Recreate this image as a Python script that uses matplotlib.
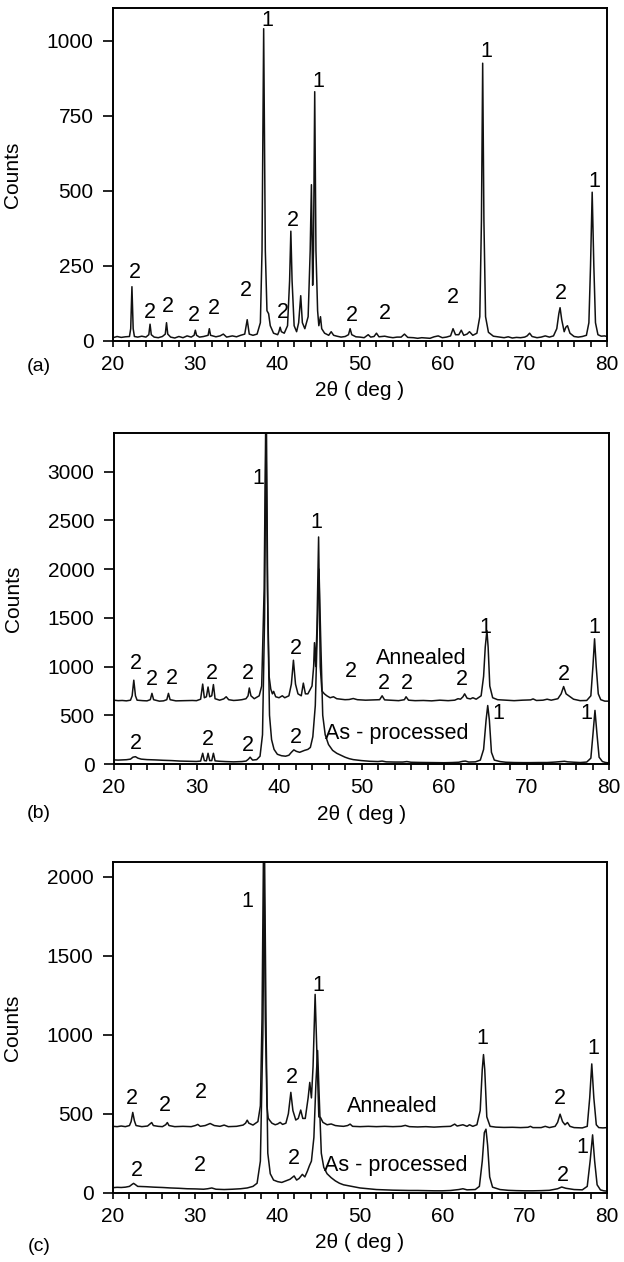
"""Three-panel XRD figure (a)-(c): Counts vs 2-theta, with phase peak labels."""
import matplotlib

matplotlib.use("Agg")
import matplotlib.pyplot as plt  # noqa: E402
from matplotlib.ticker import MultipleLocator  # noqa: E402

plt.rcParams["font.family"] = ["Liberation Sans", "DejaVu Sans"]
plt.rcParams["font.size"] = 15

# ---- panel (a): single pattern -------------------------------------------
a_x = [20.0, 20.5, 21.0, 21.5, 22.0, 22.15, 22.3, 22.45, 22.6, 23.0, 23.5, 24.0,
       24.35, 24.5, 24.65, 25.0, 25.5, 26.0, 26.35, 26.5, 26.65, 27.0, 27.5, 28.0,
       28.5, 29.0, 29.5, 29.85, 30.0, 30.15, 30.5, 31.0, 31.55, 31.7, 31.85, 32.5,
       33.0, 33.4, 33.8, 34.5, 35.0, 35.5, 36.0, 36.3, 36.55, 37.0, 37.5, 37.9,
       38.1, 38.3, 38.5, 38.7, 38.9, 39.1, 39.5, 40.0, 40.15, 40.3, 40.45, 40.8,
       41.2, 41.45, 41.6, 41.75, 42.0, 42.3, 42.55, 42.8, 43.0, 43.3, 43.7, 43.95,
       44.1, 44.25, 44.35, 44.5, 44.65, 44.85, 45.0, 45.2, 45.35, 45.7, 46.2, 46.5,
       46.8, 47.2, 47.7, 48.2, 48.6, 48.8, 49.0, 49.5, 50.0, 50.5, 51.0, 51.3,
       51.7, 52.0, 52.3, 53.0, 53.5, 54.0, 54.5, 55.0, 55.4, 55.8, 56.5, 57.0,
       57.5, 58.0, 58.5, 59.0, 59.5, 60.0, 60.5, 61.0, 61.3, 61.6, 62.0, 62.3,
       62.6, 63.0, 63.3, 63.7, 64.2, 64.55, 64.75, 64.9, 65.05, 65.25, 65.6, 66.2,
       67.0, 67.5, 68.0, 68.5, 69.0, 69.5, 70.0, 70.3, 70.6, 70.9, 71.5, 72.0,
       72.5, 73.0, 73.5, 73.9, 74.15, 74.3, 74.5, 74.8, 75.0, 75.2, 75.5, 76.0,
       76.5, 77.0, 77.5, 77.8, 78.0, 78.2, 78.4, 78.6, 78.9, 79.3, 79.7, 80.0]
a_y = [10, 14, 11, 13, 14, 40, 180, 40, 14, 12, 15, 12,
       20, 55, 20, 12, 10, 14, 22, 60, 22, 12, 9, 14,
       10, 16, 12, 18, 35, 18, 12, 14, 18, 40, 18, 13,
       16, 22, 12, 16, 13, 18, 22, 70, 22, 18, 22, 60,
       300, 1040, 300, 100, 90, 50, 25, 20, 30, 45, 30, 25,
       50, 200, 365, 200, 50, 30, 60, 150, 60, 40, 80, 300,
       520, 185, 300, 830, 300, 100, 50, 80, 40, 25, 18, 30,
       18, 15, 12, 14, 20, 40, 20, 13, 12, 10, 20, 12,
       14, 25, 13, 15, 12, 10, 12, 12, 22, 11, 10, 8,
       10, 9, 8, 13, 16, 10, 12, 16, 40, 20, 20, 35,
       18, 22, 30, 18, 25, 80, 400, 925, 400, 80, 28, 15,
       12, 10, 13, 9, 11, 10, 12, 16, 25, 14, 10, 12,
       16, 12, 16, 40, 90, 110, 70, 30, 45, 50, 25, 14,
       12, 14, 18, 60, 250, 495, 250, 60, 20, 15, 16, 14]

# ---- panel (b): annealed and as-processed ---------------------------------
b_ann_x = [20.0, 20.5, 21.0, 21.5, 22.0, 22.2, 22.4, 22.6, 22.8, 23.5, 24.0, 24.4,
           24.6, 24.8, 25.5, 26.0, 26.4, 26.6, 26.8, 27.5, 28.5, 29.5, 30.0, 30.5,
           30.75, 30.95, 31.2, 31.4, 31.6, 31.85, 32.05, 32.25, 32.8, 33.3, 33.6, 33.9,
           34.5, 35.0, 35.5, 36.0, 36.25, 36.4, 36.6, 37.0, 37.6, 37.9, 38.2, 38.4,
           38.6, 38.8, 39.0, 39.2, 39.35, 39.6, 40.0, 40.4, 40.7, 41.2, 41.5, 41.75,
           42.0, 42.3, 42.7, 42.95, 43.2, 43.5, 43.75, 44.0, 44.2, 44.3, 44.45, 44.6,
           44.8, 45.0, 45.2, 45.5, 45.8, 46.2, 46.6, 47.0, 47.5, 48.0, 48.5, 49.0,
           49.5, 50.5, 51.5, 52.2, 52.5, 52.8, 53.5, 54.5, 55.2, 55.4, 55.7, 56.5,
           57.5, 58.5, 59.5, 60.5, 61.3, 61.7, 62.0, 62.3, 62.5, 62.8, 63.2, 63.5,
           63.9, 64.5, 64.8, 65.0, 65.2, 65.35, 65.55, 65.9, 66.5, 67.5, 68.5, 69.5,
           70.5, 70.8, 71.2, 72.0, 72.5, 73.0, 73.8, 74.2, 74.5, 74.8, 75.3, 75.7,
           76.5, 77.3, 77.8, 78.05, 78.25, 78.45, 78.7, 79.0, 79.5, 80.0]
b_ann_y = [655, 650, 652, 648, 655, 700, 860, 700, 655, 650, 648, 660,
           725, 660, 645, 648, 660, 725, 660, 648, 650, 652, 650, 665,
           820, 680, 690, 790, 690, 700, 815, 670, 655, 668, 690, 660,
           652, 655, 660, 670, 700, 780, 700, 670, 700, 800, 1800, 3600,
           1800, 900, 770, 720, 745, 690, 680, 700, 680, 700, 820, 1065,
           820, 720, 700, 830, 720, 720, 760, 800, 1000, 1245, 1000, 1400,
           2330, 1000, 750, 720, 700, 680, 690, 670, 665, 660, 662, 672,
           660, 655, 658, 660, 700, 658, 655, 650, 660, 690, 655, 650,
           652, 648, 655, 650, 655, 670, 665, 690, 720, 675, 668, 680,
           665, 700, 900, 1200, 1370, 1200, 800, 680, 660, 655, 650, 655,
           658, 668, 652, 655, 665, 655, 670, 720, 795, 720, 690, 665,
           650, 652, 700, 1000, 1285, 1000, 720, 660, 645, 645]

b_asp_x = [20.0, 20.5, 21.0, 21.5, 22.0, 22.3, 22.6, 22.9, 23.3, 24.0, 25.0, 26.0,
           27.0, 28.0, 29.0, 30.0, 30.5, 30.75, 30.95, 31.2, 31.4, 31.6, 31.85, 32.05,
           32.25, 32.8, 33.5, 34.5, 35.5, 36.0, 36.3, 36.5, 36.8, 37.3, 37.7, 38.0,
           38.25, 38.45, 38.65, 38.85, 39.1, 39.4, 39.8, 40.3, 40.8, 41.2, 41.5, 41.8,
           42.1, 42.5, 42.8, 43.1, 43.5, 43.8, 44.1, 44.4, 44.65, 44.85, 45.05, 45.3,
           45.6, 46.0, 46.5, 47.0, 47.5, 48.0, 48.5, 49.0, 50.0, 51.0, 52.0, 52.5,
           53.0, 54.0, 55.0, 55.5, 56.0, 57.0, 58.0, 59.0, 60.0, 61.0, 61.8, 62.3,
           62.6, 63.0, 63.8, 64.4, 64.8, 65.1, 65.3, 65.5, 65.75, 66.1, 66.8, 67.5,
           68.5, 69.5, 70.5, 71.5, 72.5, 73.5, 74.2, 74.6, 75.0, 75.8, 76.5, 77.3,
           77.8, 78.05, 78.3, 78.55, 78.8, 79.2, 79.6, 80.0]
b_asp_y = [42, 40, 42, 44, 50, 70, 75, 60, 50, 45, 42, 38,
           35, 30, 28, 26, 30, 110, 35, 32, 110, 35, 35, 110,
           32, 28, 25, 22, 25, 30, 50, 70, 40, 45, 80, 300,
           1500, 3800, 1500, 500, 250, 150, 100, 85, 80, 90, 120, 145,
           130, 120, 130, 140, 150, 170, 280, 600, 1400, 2000, 1300, 500,
           300, 200, 140, 110, 90, 70, 55, 45, 35, 28, 25, 30,
           22, 20, 20, 25, 18, 16, 15, 14, 13, 15, 18, 28,
           30, 20, 22, 40, 150, 450, 600, 450, 120, 40, 25, 18,
           15, 14, 14, 15, 15, 20, 25, 28, 22, 18, 15, 20,
           60, 300, 550, 300, 70, 25, 15, 12]

# ---- panel (c): annealed and as-processed ---------------------------------
c_ann_x = [20.0, 20.5, 21.0, 21.5, 22.0, 22.2, 22.4, 22.6, 22.8, 23.5, 24.2, 24.5,
           24.7, 24.9, 25.5, 26.0, 26.4, 26.6, 26.8, 27.5, 28.5, 29.5, 30.0, 30.3,
           30.6, 31.2, 31.8, 32.3, 33.0, 33.5, 34.0, 35.0, 35.8, 36.1, 36.3, 36.5,
           37.0, 37.6, 37.9, 38.1, 38.3, 38.5, 38.7, 38.85, 39.0, 39.3, 39.7, 40.0,
           40.3, 40.6, 41.0, 41.3, 41.6, 41.85, 42.2, 42.5, 42.8, 43.05, 43.35, 43.7,
           43.9, 44.1, 44.3, 44.55, 44.75, 45.0, 45.2, 45.5, 46.0, 46.5, 47.0, 47.5,
           48.0, 48.5, 48.8, 49.1, 50.0, 51.0, 52.0, 53.0, 54.0, 55.0, 55.5, 56.0,
           57.0, 58.0, 59.0, 60.0, 61.0, 61.5, 61.8, 62.5, 63.0, 63.3, 63.7, 64.2,
           64.6, 64.85, 65.0, 65.15, 65.4, 65.8, 66.5, 67.5, 68.5, 69.5, 70.4, 70.7,
           71.0, 72.0, 72.5, 73.0, 73.7, 74.0, 74.3, 74.6, 74.9, 75.2, 75.5, 76.0,
           77.0, 77.6, 77.9, 78.15, 78.4, 78.7, 79.0, 79.5, 80.0]
c_ann_y = [420, 418, 422, 418, 425, 450, 508, 455, 425, 418, 422, 435,
           444, 425, 420, 418, 430, 444, 425, 418, 420, 418, 425, 432,
           420, 425, 438, 425, 420, 428, 418, 420, 428, 440, 459, 440,
           428, 450, 550, 1100, 2300, 1100, 550, 472, 460, 440, 430, 435,
           445, 432, 440, 500, 635, 520, 460, 470, 523, 470, 470, 600,
           698, 600, 800, 1255, 900, 480, 476, 445, 430, 435, 425, 422,
           420, 425, 434, 420, 418, 420, 418, 420, 418, 420, 426, 418,
           416, 418, 415, 418, 420, 434, 422, 430, 420, 430, 420, 430,
           520, 780, 874, 780, 480, 420, 415, 413, 414, 412, 414, 420,
           412, 412, 420, 412, 420, 445, 497, 450, 430, 444, 420, 412,
           410, 420, 600, 815, 600, 430, 412, 410, 412]

c_asp_x = [20.0, 20.5, 21.0, 21.5, 22.0, 22.3, 22.5, 22.7, 23.0, 24.0, 25.0, 26.0,
           27.0, 28.0, 29.0, 30.0, 31.0, 31.5, 32.0, 32.5, 33.5, 34.5, 35.5, 36.3,
           37.0, 37.5, 37.9, 38.2, 38.4, 38.6, 38.8, 39.1, 39.5, 40.0, 40.5, 41.0,
           41.5, 42.0, 42.3, 42.6, 43.0, 43.3, 43.6, 43.85, 44.1, 44.4, 44.65, 44.85,
           45.05, 45.3, 45.6, 46.0, 46.5, 47.0, 47.5, 48.0, 49.0, 50.0, 51.0, 52.0,
           53.0, 54.0, 55.0, 56.0, 57.0, 58.0, 59.0, 60.0, 61.0, 62.0, 62.5, 63.0,
           64.0, 64.5, 64.85, 65.1, 65.3, 65.5, 65.75, 66.1, 67.0, 68.0, 69.0, 70.0,
           71.0, 72.0, 73.0, 74.0, 74.5, 75.0, 76.0, 77.0, 77.6, 77.95, 78.25, 78.5,
           78.8, 79.2, 79.6, 80.0]
c_asp_y = [32, 34, 33, 35, 40, 52, 59, 52, 40, 38, 35, 33,
           30, 28, 25, 24, 22, 25, 30, 22, 20, 22, 25, 30,
           40, 60, 200, 1000, 2200, 1000, 250, 120, 80, 70, 65, 75,
           85, 106, 80, 90, 116, 100, 135, 170, 200, 350, 700, 900,
           600, 250, 160, 120, 95, 75, 60, 50, 40, 30, 25, 20,
           18, 16, 15, 14, 14, 13, 12, 12, 14, 20, 25, 18,
           20, 40, 200, 380, 402, 300, 100, 35, 20, 15, 13, 12,
           12, 13, 15, 25, 36, 28, 20, 18, 40, 200, 366, 200,
           50, 18, 12, 10]

# peak labels: (2-theta, counts, text); 1 = main phase, 2 = second phase
a_marks = [(22.6, 228, "2"), (24.5, 95, "2"), (26.7, 114, "2"), (29.8, 84, "2"),
           (32.2, 106, "2"), (36.1, 167, "2"), (38.7, 1069, "1"), (40.6, 95, "2"),
           (41.9, 401, "2"), (44.9, 863, "1"), (49.0, 84, "2"), (53.0, 89, "2"),
           (61.3, 145, "2"), (65.4, 963, "1"), (74.4, 156, "2"), (78.5, 531, "1")]
b_marks = [(22.6, 1035, "2"), (24.6, 864, "2"), (27.0, 881, "2"), (31.9, 933, "2"),
           (36.2, 926, "2"), (37.5, 2931, "1"), (42.1, 1183, "2"), (44.5, 2475, "1"),
           (48.7, 953, "2"), (52.7, 823, "2"), (55.5, 823, "2"), (62.2, 864, "2"),
           (65.0, 1406, "1"), (74.5, 919, "2"), (78.2, 1406, "1"),
           (66.6, 514, "1"), (77.2, 514, "1"), (22.7, 206, "2"), (31.4, 247, "2"),
           (36.2, 189, "2"), (42.0, 274, "2"),
           (57.3, 1080, "Annealed"), (54.3, 315, "As - processed")]
c_marks = [(22.3, 593, "2"), (26.3, 550, "2"), (30.7, 635, "2"), (36.3, 1841, "1"),
           (41.7, 730, "2"), (44.9, 1312, "1"), (64.9, 974, "1"), (78.3, 910, "1"),
           (74.3, 593, "2"), (22.9, 142, "2"), (30.5, 169, "2"), (42.0, 216, "2"),
           (74.7, 106, "2"), (77.0, 286, "1"),
           (53.9, 544, "Annealed"), (54.4, 169, "As - processed")]

W, H = 624, 1262
fig = plt.figure(figsize=(W / 100, H / 100), dpi=100)


def panel(left, right, top, bottom, ymax, ystep, curves, marks, letter, letter_y):
    ax = fig.add_axes([left / W, 1 - bottom / H, (right - left) / W, (bottom - top) / H])
    for xs, ys in curves:
        ax.plot(xs, ys, color="#111111", lw=1.1)
    for x, y, s in marks:
        ax.text(x, y, s, ha="center", va="center", fontsize=15.5)
    ax.set_xlim(20, 80)
    ax.set_ylim(0, ymax)
    ax.xaxis.set_major_locator(MultipleLocator(10))
    ax.xaxis.set_minor_locator(MultipleLocator(2))
    ax.yaxis.set_major_locator(MultipleLocator(ystep))
    ax.tick_params(axis="x", which="both", direction="out", length=4, width=1.2, pad=6)
    ax.tick_params(axis="y", direction="out", length=7, width=1.2, pad=7)
    for sp in ax.spines.values():
        sp.set_linewidth(1.4)
    ax.set_ylabel("Counts")
    ax.yaxis.set_label_coords(-91 / (right - left), 0.5)
    ax.set_xlabel("2θ ( deg )")
    ax.xaxis.label.set_va("center")
    ax.xaxis.set_label_coords(0.5, -50 / (bottom - top))
    fig.text(39 / W, 1 - letter_y / H, letter, ha="center", va="center", fontsize=14)
    return ax


panel(113, 607, 8.3, 340.7, 1108, 250, [(a_x, a_y)], a_marks, "(a)", 366.7)
panel(114, 609, 433.3, 764, 3394, 500,
      [(b_ann_x, b_ann_y), (b_asp_x, b_asp_y)], b_marks, "(b)", 814)
panel(113, 607, 862.3, 1192.7, 2091, 500,
      [(c_ann_x, c_ann_y), (c_asp_x, c_asp_y)], c_marks, "(c)", 1246.7)

fig.savefig("out.png", dpi=100)
